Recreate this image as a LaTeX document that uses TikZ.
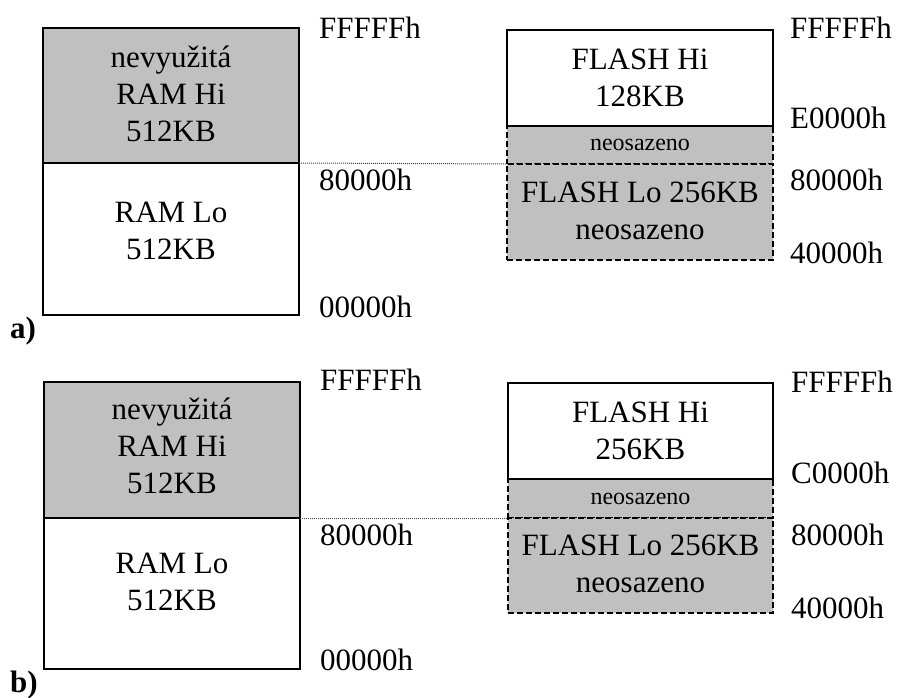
\documentclass[tikz,border=0pt]{standalone}
\usepackage{fontspec}
\setmainfont{Liberation Serif}
\definecolor{memgray}{HTML}{C0C0C0}
\begin{document}
\begin{tikzpicture}[x=1pt,y=-1pt,
  box/.style={draw=black, line width=1.7pt, inner sep=0pt, outer sep=0pt, anchor=north west},
  gbox/.style={box, fill=memgray, dash pattern=on 6pt off 3pt},
  txt/.style={inner sep=0pt, align=center, font=\fontsize{31}{37}\selectfont},
  small/.style={inner sep=0pt, font=\fontsize{24}{28}\selectfont},
  addr/.style={inner sep=0pt, anchor=base west, font=\fontsize{31}{37}\selectfont},
  tag/.style={inner sep=0pt, anchor=base west, font=\fontsize{31}{37}\selectfont\bfseries},
  guide/.style={draw=black!75, line width=1pt, dash pattern=on 1pt off 1pt}]
\useasboundingbox (0,0) rectangle (899,697);
% ---------- panel a ----------
\node[box, fill=memgray, minimum width=256pt, minimum height=135pt] (ramHiA) at (43,28) {};
\node[box, fill=white, minimum width=256pt, minimum height=152pt] (ramLoA) at (43,163) {};
\node[gbox, minimum width=266pt, minimum height=38pt] (neoA) at (507,126) {};
\node[gbox, minimum width=266pt, minimum height=96pt] (flLoA) at (507,164) {};
\node[box, fill=white, minimum width=266pt, minimum height=96pt] (flHiA) at (507,30) {};
\draw[guide] (ramHiA.south east) -- (flLoA.north west);
\node[txt] (tRamHiA) at (171,94) {nevyužitá\\RAM Hi\\512KB};
\node[txt] (tRamLoA) at (171,231) {RAM Lo\\512KB};
\node[txt] (tFlHiA) at (640,78) {FLASH Hi\\128KB};
\node[small] (tNeoA) at (640,145) {neosazeno};
\node[txt] (tFlLoA) at (640,211) {FLASH Lo 256KB\\neosazeno};
\node[addr] (aL1) at (319,38) {FFFFFh};
\node[addr] (aL2) at (319,190) {80000h};
\node[addr] (aL3) at (319,317) {00000h};
\node[addr] (aR1) at (790,38) {FFFFFh};
\node[addr] (aR2) at (790,128) {E0000h};
\node[addr] (aR3) at (790,190) {80000h};
\node[addr] (aR4) at (790,263) {40000h};
\node[tag] (labA) at (10,338) {a)};
% ---------- panel b ----------
\node[box, fill=memgray, minimum width=256pt, minimum height=136pt] (ramHiB) at (44,382) {};
\node[box, fill=white, minimum width=256pt, minimum height=151pt] (ramLoB) at (44,518) {};
\node[gbox, minimum width=265pt, minimum height=39pt] (neoB) at (508,479) {};
\node[gbox, minimum width=265pt, minimum height=95pt] (flLoB) at (508,518) {};
\node[box, fill=white, minimum width=265pt, minimum height=96pt] (flHiB) at (508,383) {};
\draw[guide] (ramHiB.south east) -- (flLoB.north west);
\node[txt] (tRamHiB) at (172,446) {nevyužitá\\RAM Hi\\512KB};
\node[txt] (tRamLoB) at (172,582) {RAM Lo\\512KB};
\node[txt] (tFlHiB) at (640.5,431) {FLASH Hi\\256KB};
\node[small] (tNeoB) at (640.5,499) {neosazeno};
\node[txt] (tFlLoB) at (640.5,564) {FLASH Lo 256KB\\neosazeno};
\node[addr] (bL1) at (320,390) {FFFFFh};
\node[addr] (bL2) at (320,545) {80000h};
\node[addr] (bL3) at (320,670) {00000h};
\node[addr] (bR1) at (791,392) {FFFFFh};
\node[addr] (bR2) at (791,483) {C0000h};
\node[addr] (bR3) at (791,545) {80000h};
\node[addr] (bR4) at (791,618) {40000h};
\node[tag] (labB) at (10,692) {b)};
\end{tikzpicture}
\end{document}
